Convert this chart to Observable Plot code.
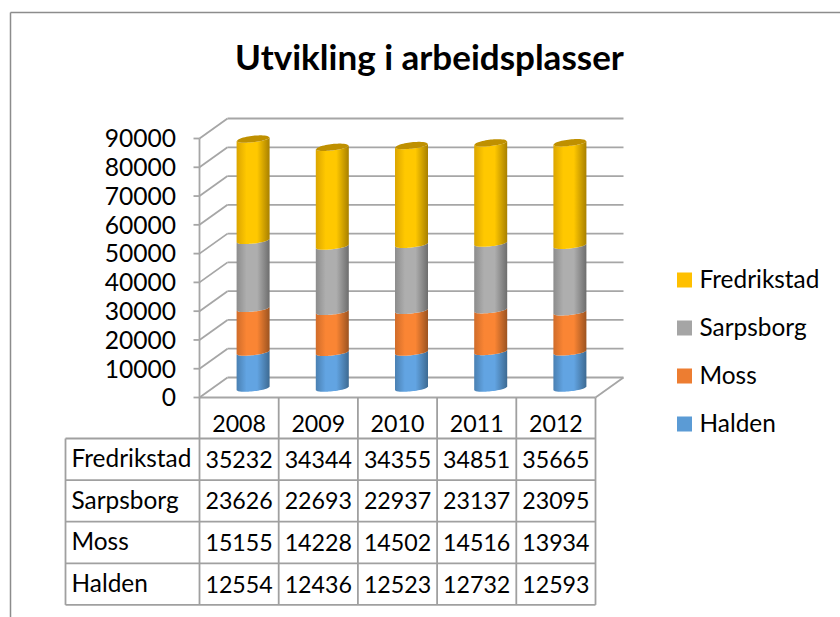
<!DOCTYPE html>
<html><head><meta charset="utf-8">
<script src="https://cdn.jsdelivr.net/npm/d3@7"></script>
<script src="https://cdn.jsdelivr.net/npm/@observablehq/plot@0.6"></script>
<style>html,body{margin:0;padding:0;background:#fff}svg{display:block}</style>
</head><body><div id="chart"></div>
<script>
const years = [2008, 2009, 2010, 2011, 2012];
const halden = [12554, 12436, 12523, 12732, 12593];
const moss = [15155, 14228, 14502, 14516, 13934];
const sarpsborg = [23626, 22693, 22937, 23137, 23095];
const fredrikstad = [35232, 34344, 34355, 34851, 35665];
const yTicks = [0, 10000, 20000, 30000, 40000, 50000, 60000, 70000, 80000, 90000];
const title = "Utvikling i arbeidsplasser";

const seriesStack = [
  {name: "Halden", values: halden, color: "#5b9bd5", left: "#4a80b2", mid: "#62a4e2", right: "#3d6a92"},
  {name: "Moss", values: moss, color: "#ed7d31", left: "#d06c2a", mid: "#fa8534", right: "#9c5320"},
  {name: "Sarpsborg", values: sarpsborg, color: "#a5a5a5", left: "#8c8c8c", mid: "#aeaeae", right: "#6d6d6d"},
  {name: "Fredrikstad", values: fredrikstad, color: "#ffc000", left: "#dba500", mid: "#ffc800", right: "#a88000"}
];
const tableRows = [fredrikstad, sarpsborg, moss, halden];
const tableNames = ["Fredrikstad", "Sarpsborg", "Moss", "Halden"];

const W = 840, H = 617, mL = 199, mR = 245, mT = 138, mB = 220;
const pxX = (W - mR - mL) / years.length;
const pxY = (H - mB - mT) / 90000;
const xAt = px => (px - mL) / pxX;
const yAt = px => (H - mB - px) / pxY;
const dX = 28 / pxX, dY = 20 / pxY;   // depth of the 3D box in data units
const gridColor = "#a6a6a6", tableColor = "#a0a0a0", ink = "#000";
const font = "Lato, Carlito, Calibri, sans-serif";

// Cylinder segments, sampled across their width
const us = d3.range(-1, 1.0001, 0.1);
const halfW = 16.5 / pxX;
const arc = u => (-1.8 * u + 2.8 * Math.sqrt(Math.max(0, 1 - u * u))) / pxY;
const capArc = u => (-1.8 * u - 3.6 * Math.sqrt(Math.max(0, 1 - u * u))) / pxY;

const segs = seriesStack.map(s => ({...s, pts: []}));
const caps = [];
years.forEach((yr, i) => {
  let base = 0;
  seriesStack.forEach((s, k) => {
    const top = base + s.values[i];
    us.forEach(u => segs[k].pts.push({
      z: yr, x: i + 0.5 + u * halfW,
      y1: base - arc(u), y2: top - arc(u)
    }));
    base = top;
  });
  us.forEach(u => caps.push({
    z: yr, x: i + 0.5 + u * halfW,
    y1: base - arc(u), y2: base - capArc(u)
  }));
});

const defs = () => {
  const ns = "http://www.w3.org/2000/svg";
  const d = document.createElementNS(ns, "defs");
  seriesStack.forEach((s, k) => {
    const g = document.createElementNS(ns, "linearGradient");
    g.setAttribute("id", "cyl" + k);
    [[0, s.left], [.3, s.mid], [.62, s.mid], [1, s.right]].forEach(([o, c]) => {
      const st = document.createElementNS(ns, "stop");
      st.setAttribute("offset", o);
      st.setAttribute("stop-color", c);
      g.appendChild(st);
    });
    d.appendChild(g);
  });
  return d;
};

const line = (x1, y1, x2, y2, stroke, sw) =>
  Plot.link([0], {x1: () => x1, y1: () => y1, x2: () => x2, y2: () => y2, stroke, strokeWidth: sw});

const tableTop = yAt(438), rowH = 41.6 / pxY;
const rowLines = d3.range(0, 5).map(k => tableTop - k * rowH);
const tableBottom = rowLines[4];
const rowMid = k => tableTop - (k + 0.5) * rowH;

const cells = tableRows.flatMap((vals, k) => vals.map((v, i) => ({i, k, v})));
const legendEntries = [...seriesStack].reverse().map((s, k) => ({name: s.name, color: s.color, y: yAt(280 + 48 * k)}));
const legendKey = 15;
const digitSize = 23.2, nameSize = 24.4;

const plot = Plot.plot({
  width: W, height: H,
  marginLeft: mL, marginRight: mR, marginTop: mT, marginBottom: mB,
  style: {fontFamily: font, background: "#fff", color: ink, overflow: "visible"},
  x: {type: "linear", domain: [0, years.length], axis: null},
  y: {type: "linear", domain: [0, 90000], axis: null},
  marks: [
    defs,
    // chart frame
    line(xAt(10), yAt(12), xAt(840), yAt(12), "#8c8c8c", 1.5),
    line(xAt(10), yAt(12), xAt(10), yAt(617), "#8c8c8c", 1.5),
    // back wall gridlines and side wall
    Plot.link(yTicks, {x1: () => dX, x2: () => years.length + dX, y1: d => d + dY, y2: d => d + dY, stroke: gridColor, strokeWidth: 1.8}),
    Plot.link(yTicks, {x1: () => 0, x2: () => dX, y1: d => d, y2: d => d + dY, stroke: gridColor, strokeWidth: 1.8}),
    line(0, 0, 0, 90000, gridColor, 1.8),
    // floor
    line(0, 0, years.length, 0, gridColor, 1.8),
    line(years.length, 0, years.length + dX, dY, gridColor, 1.8),
    // y axis
    Plot.link(yTicks, {x1: () => xAt(193), x2: () => 0, y1: d => d, y2: d => d, stroke: gridColor, strokeWidth: 1.8}),
    Plot.text(yTicks, {x: () => xAt(175.5), y: d => d, text: d => String(d), textAnchor: "end", fontSize: 24.6, dy: 1, fill: ink}),
    // cylinders
    ...segs.map((s, k) => Plot.areaY(s.pts, {x: "x", y1: "y1", y2: "y2", z: "z", fill: `url(#cyl${k})`, curve: "linear", dx: 14.5, dy: -8.5})),
    Plot.areaY(caps, {x: "x", y1: "y1", y2: "y2", z: "z", fill: "#bf9000", curve: "linear", dx: 14.5, dy: -8.5}),
    // title
    Plot.text([title], {x: () => xAt(429), y: () => yAt(58), text: d => d, fontSize: 35, fontWeight: "bold", fill: ink}),
    // data table lines
    Plot.link(years.concat([0]), {x1: (d, i) => i, x2: (d, i) => i, y1: () => 0, y2: () => tableBottom, stroke: tableColor, strokeWidth: 1.8}),
    line(xAt(65), tableTop, xAt(65), tableBottom, tableColor, 1.8),
    Plot.link(rowLines, {x1: () => xAt(65), x2: () => years.length, y1: d => d, y2: d => d, stroke: tableColor, strokeWidth: 1.8}),
    // table text
    Plot.text(years, {x: (d, i) => i + 0.5, y: () => yAt(424), text: d => String(d), fontSize: digitSize, fill: ink}),
    Plot.text(tableNames, {x: () => xAt(71), y: (d, k) => rowMid(k), text: d => d, textAnchor: "start", fontSize: nameSize, fill: ink}),
    Plot.text(cells, {x: d => d.i + 0.5, y: d => rowMid(d.k), text: d => String(d.v), fontSize: digitSize, dy: 1, fill: ink}),
    // legend
    Plot.rect(legendEntries, {x1: () => xAt(677), x2: () => xAt(677 + legendKey), y1: d => d.y - legendKey / 2 / pxY, y2: d => d.y + legendKey / 2 / pxY, fill: d => d.color}),
    Plot.text(legendEntries, {x: () => xAt(699), y: d => d.y, text: d => d.name, textAnchor: "start", fontSize: nameSize, fill: ink})
  ],
  color: {type: "identity"}
});
document.getElementById("chart").appendChild(plot);
</script>
</body></html>
